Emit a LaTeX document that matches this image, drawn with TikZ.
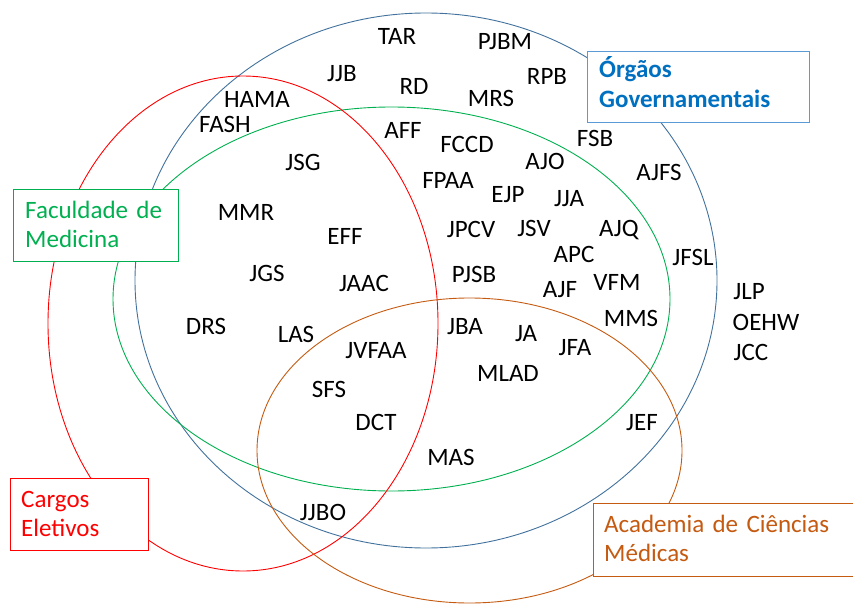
\documentclass[tikz,border=0pt]{standalone}
\usepackage{fontspec}
\setmainfont{Carlito}
\definecolor{govline}{RGB}{65,113,156}
\definecolor{govbox}{RGB}{91,155,213}
\definecolor{govtext}{RGB}{0,112,192}
\definecolor{medgreen}{RGB}{0,176,80}
\definecolor{elred}{RGB}{255,0,0}
\definecolor{acorange}{RGB}{197,90,17}
\begin{document}
\begin{tikzpicture}[x=1pt,y=-1pt,
  lbl/.style={font=\fontsize{25}{30}\selectfont, inner sep=0pt, text height=16pt, text depth=0pt},
  vennline/.style={line width=0.9pt},
  boxframe/.style={draw, fill=white, line width=1pt, inner sep=0pt, anchor=north west},
  boxtxt/.style={anchor=base west, align=left, text width=250pt, inner sep=0pt, font=\fontsize{25}{29.5}\selectfont}]
\useasboundingbox (0,0) rectangle (853,604);
% sets
\draw[vennline, draw=govline] (426,280.5) ellipse [x radius=291pt, y radius=267.5pt];
\draw[vennline, draw=medgreen] (391.5,299) ellipse [x radius=278.5pt, y radius=192pt];
\draw[vennline, draw=elred] (243,323.5) ellipse [x radius=195pt, y radius=247.5pt];
\draw[vennline, draw=acorange] (469.5,450.5) ellipse [x radius=212.5pt, y radius=152.5pt];
% legend boxes
\node[boxframe, draw=govbox, minimum width=222pt, minimum height=71pt] (ogbox) at (587,51) {};
\node[boxtxt, text=govtext, font=\fontsize{25}{29.5}\selectfont\bfseries] (og) at (599,78) {Órgãos\\Governamentais};
\node[boxframe, draw=medgreen, minimum width=165pt, minimum height=72pt] (fmbox) at (13,189) {};
\node[boxtxt, text=medgreen] (fm) at (25,218) {Faculdade de\\Medicina};
\node[boxframe, draw=elred, minimum width=138pt, minimum height=72pt] (cebox) at (10,478) {};
\node[boxtxt, text=elred] (ce) at (21,507) {Cargos\\Eletivos};
\node[boxframe, draw=acorange, minimum width=270pt, minimum height=73pt] (acbox) at (593,503) {};
\node[boxtxt, text=acorange] (ac) at (604,532) {Academia de Ciências\\Médicas};
% names
\node[lbl] (tar) at (397,37) {TAR};
\node[lbl] (pjbm) at (505,42) {PJBM};
\node[lbl] (jjb) at (342,74) {JJB};
\node[lbl] (rd) at (414,87) {RD};
\node[lbl] (rpb) at (547,77) {RPB};
\node[lbl] (mrs) at (491,99) {MRS};
\node[lbl] (hama) at (257,100) {HAMA};
\node[lbl] (fash) at (225,125) {FASH};
\node[lbl] (aff) at (403,131) {AFF};
\node[lbl] (fccd) at (467,145) {FCCD};
\node[lbl] (fsb) at (595,139) {FSB};
\node[lbl] (ajo) at (545,162) {AJO};
\node[lbl] (jsg) at (303,163) {JSG};
\node[lbl] (fpaa) at (448,180) {FPAA};
\node[lbl] (ajfs) at (659,173) {AJFS};
\node[lbl] (ejp) at (508,194) {EJP};
\node[lbl] (jja) at (569,198) {JJA};
\node[lbl] (mmr) at (246,212) {MMR};
\node[lbl] (eff) at (345,236) {EFF};
\node[lbl] (jpcv) at (471,229) {JPCV};
\node[lbl] (jsv) at (534,228) {JSV};
\node[lbl] (ajq) at (619,228) {AJQ};
\node[lbl] (apc) at (574,254) {APC};
\node[lbl] (jfsl) at (693,257) {JFSL};
\node[lbl] (jgs) at (267,273) {JGS};
\node[lbl] (jaac) at (364,283) {JAAC};
\node[lbl] (pjsb) at (474,274) {PJSB};
\node[lbl] (ajf) at (560,289) {AJF};
\node[lbl] (vfm) at (617,282) {VFM};
\node[lbl] (jlp) at (749,291) {JLP};
\node[lbl] (drs) at (206,326) {DRS};
\node[lbl] (las) at (296,334) {LAS};
\node[lbl] (jba) at (465,326) {JBA};
\node[lbl] (ja) at (526,333) {JA};
\node[lbl] (mms) at (631,318) {MMS};
\node[lbl] (oehw) at (766,322) {OEHW};
\node[lbl] (jvfaa) at (376,350) {JVFAA};
\node[lbl] (jfa) at (575,347) {JFA};
\node[lbl] (jcc) at (751,352) {JCC};
\node[lbl] (mlad) at (508,373) {MLAD};
\node[lbl] (sfs) at (329,389) {SFS};
\node[lbl] (dct) at (376,422) {DCT};
\node[lbl] (jef) at (642,422) {JEF};
\node[lbl] (mas) at (451,457) {MAS};
\node[lbl] (jjbo) at (323,512) {JJBO};
\end{tikzpicture}
\end{document}
